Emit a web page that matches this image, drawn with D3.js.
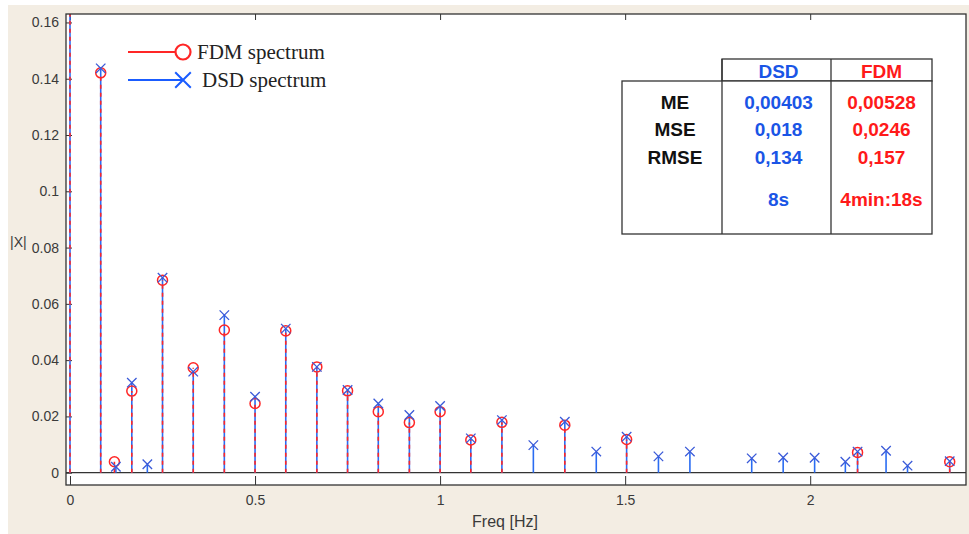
<!DOCTYPE html>
<html>
<head>
<meta charset="utf-8">
<script src="https://cdn.jsdelivr.net/npm/d3@7/dist/d3.min.js"></script>
<style>
  html, body { margin: 0; padding: 0; background: #fff; }
  svg { display: block; }
</style>
</head>
<body>
<div id="chart"></div>
<script>
// ---- data ----
// DSD spectrum (blue crosses)
const dsdFreq = [0, 0.083, 0.124, 0.167, 0.209, 0.25, 0.333, 0.417, 0.5, 0.583, 0.667, 0.75,
  0.833, 0.917, 1.0, 1.083, 1.167, 1.252, 1.337, 1.422, 1.504, 1.59, 1.675, 1.842, 1.927,
  2.012, 2.095, 2.128, 2.205, 2.263, 2.377];
const dsdMag = [0.17, 0.1437, 0.0021, 0.032, 0.003, 0.0693, 0.0359, 0.056, 0.027, 0.0512, 0.0376, 0.0294,
  0.0246, 0.0205, 0.0237, 0.0122, 0.0187, 0.0098, 0.0181, 0.0075, 0.0128, 0.0058, 0.0075, 0.0051, 0.0054,
  0.0053, 0.0039, 0.0075, 0.0078, 0.0025, 0.0041];

// FDM spectrum (red circles)
const fdmFreq = [0, 0.083, 0.12, 0.167, 0.25, 0.333, 0.417, 0.5, 0.583, 0.667, 0.75, 0.833,
  0.917, 1.0, 1.083, 1.167, 1.337, 1.504, 2.128, 2.377];
const fdmMag = [0.17, 0.1421, 0.0039, 0.029, 0.0684, 0.0373, 0.0507, 0.0246, 0.0504, 0.0376, 0.0291, 0.0217,
  0.0178, 0.0217, 0.0116, 0.0179, 0.0169, 0.0118, 0.0072, 0.0039];

const xTicks = [0, 0.5, 1, 1.5, 2];
const yTicks = [0, 0.02, 0.04, 0.06, 0.08, 0.1, 0.12, 0.14, 0.16];

const legendLabels = ["FDM spectrum", "DSD spectrum"];

// error table
const tableHeader = ["DSD", "FDM"];
const rowLabels = ["ME", "MSE", "RMSE", ""];
const dsdStats = ["0,00403", "0,018", "0,134", "8s"];
const fdmStats = ["0,00528", "0,0246", "0,157", "4min:18s"];

// ---- layout ----
const W = 969, H = 534;
const plot = { left: 66, top: 14, right: 966, bottom: 485 };
const RED = "#ff2626", BLUE = "#2a6cf2", XBLUE = "#3a5ad8", AXIS = "#333";

const svg = d3.select("#chart").append("svg")
    .attr("width", W)
    .attr("height", H);

// beige frame behind the axes
svg.append("rect")
    .attr("x", 8).attr("y", 5)
    .attr("width", W - 8).attr("height", H - 5)
    .attr("fill", "#f3ede3");

svg.append("rect")
    .attr("x", plot.left).attr("y", plot.top)
    .attr("width", plot.right - plot.left).attr("height", plot.bottom - plot.top)
    .attr("fill", "#fff");

const x = d3.scaleLinear().domain([-0.0108, 2.421]).range([plot.left, plot.right]);
const y = d3.scaleLinear().domain([-0.00437, 0.163]).range([plot.bottom, plot.top]);

svg.append("clipPath").attr("id", "clip")
  .append("rect")
    .attr("x", plot.left).attr("y", plot.top)
    .attr("width", plot.right - plot.left).attr("height", plot.bottom - plot.top);

const tickFmt = d => d === 0 ? "0" : String(+d.toFixed(2));

// axes
svg.append("g")
    .attr("transform", `translate(0,${plot.bottom})`)
    .call(d3.axisBottom(x).tickValues(xTicks).tickFormat(tickFmt).tickSizeInner(-9).tickSizeOuter(0).tickPadding(10));
svg.append("g")
    .attr("transform", `translate(0,${plot.top})`)
    .call(d3.axisTop(x).tickValues(xTicks).tickFormat("").tickSizeInner(-6).tickSizeOuter(0));
svg.append("g")
    .attr("transform", `translate(${plot.left},0)`)
    .call(d3.axisLeft(y).tickValues(yTicks).tickFormat(tickFmt).tickSizeInner(-6).tickSizeOuter(0).tickPadding(7));

svg.selectAll(".domain").remove();
svg.selectAll(".tick line").attr("stroke", AXIS);
svg.selectAll(".tick text")
    .attr("fill", "#3a3a3a")
    .style("font-family", "'Liberation Sans', Arial, sans-serif")
    .style("font-size", "14px");

// zero line
svg.append("line")
    .attr("x1", plot.left).attr("x2", plot.right)
    .attr("y1", y(0)).attr("y2", y(0))
    .attr("stroke", AXIS).attr("stroke-width", 1.3);

// stems
const marks = svg.append("g").attr("clip-path", "url(#clip)");
const dsd = dsdFreq.map((f, i) => ({ f, v: dsdMag[i] }));
const fdm = fdmFreq.map((f, i) => ({ f, v: fdmMag[i] }));

marks.selectAll(".dsd-stem")
    .data(dsd)
    .enter().append("line")
    .attr("class", "dsd-stem")
    .attr("x1", d => x(d.f)).attr("x2", d => x(d.f))
    .attr("y1", y(0)).attr("y2", d => y(d.v))
    .attr("stroke", BLUE).attr("stroke-width", 1.6);

marks.selectAll(".fdm-stem")
    .data(fdm)
    .enter().append("line")
    .attr("class", "fdm-stem")
    .attr("x1", d => x(d.f)).attr("x2", d => x(d.f))
    .attr("y1", y(0)).attr("y2", d => y(d.v))
    .attr("stroke", RED).attr("stroke-width", 1.6)
    .attr("stroke-dasharray", "4,4");

// markers
marks.selectAll(".fdm-dot")
    .data(fdm)
    .enter().append("circle")
    .attr("class", "fdm-dot")
    .attr("cx", d => x(d.f)).attr("cy", d => y(d.v))
    .attr("r", 5)
    .attr("fill", "none").attr("stroke", RED).attr("stroke-width", 1.5);

const cross = d3.symbol().type(d3.symbolTimes).size(60);
marks.selectAll(".dsd-x")
    .data(dsd)
    .enter().append("path")
    .attr("class", "dsd-x")
    .attr("transform", d => `translate(${x(d.f)},${y(d.v)})`)
    .attr("d", cross)
    .attr("fill", "none").attr("stroke", XBLUE).attr("stroke-width", 1.3);

// plot box
svg.append("rect")
    .attr("x", plot.left).attr("y", plot.top)
    .attr("width", plot.right - plot.left).attr("height", plot.bottom - plot.top)
    .attr("fill", "none").attr("stroke", AXIS).attr("stroke-width", 1.3);

// axis labels
svg.append("text")
    .attr("x", 505).attr("y", 527)
    .attr("text-anchor", "middle")
    .attr("fill", "#3a3a3a")
    .style("font-family", "'Liberation Sans', Arial, sans-serif")
    .style("font-size", "16px")
    .text("Freq [Hz]");

svg.append("text")
    .attr("x", 10).attr("y", 247)
    .attr("fill", "#3a3a3a")
    .style("font-family", "'Liberation Sans', Arial, sans-serif")
    .style("font-size", "14px")
    .text("|X|");

// legend
const legend = svg.append("g").attr("transform", "translate(128,52)");
const legendRows = legend.selectAll("g")
    .data(legendLabels)
    .enter().append("g")
    .attr("transform", (d, i) => `translate(0,${i * 28})`);

legendRows.append("line")
    .attr("x1", 0).attr("x2", 55)
    .attr("stroke", (d, i) => i === 0 ? RED : "#1a5cff")
    .attr("stroke-width", 2);
legendRows.filter((d, i) => i === 0).append("circle")
    .attr("cx", 55).attr("r", 7.5)
    .attr("fill", "#fff").attr("stroke", RED).attr("stroke-width", 2.2);
legendRows.filter((d, i) => i === 1).append("path")
    .attr("transform", "translate(55,0)")
    .attr("d", d3.symbol().type(d3.symbolTimes).size(160))
    .attr("fill", "none").attr("stroke", "#1a5cff").attr("stroke-width", 2);
legendRows.append("text")
    .attr("x", (d, i) => i === 0 ? 69 : 74).attr("y", 7)
    .attr("fill", "#222")
    .style("font-family", "'Liberation Serif', 'Times New Roman', serif")
    .style("font-size", "21px")
    .text(d => d);

// statistics table
const tbl = { left: 622, c1: 722, c2: 831, right: 932, top: 59, head: 81, bottom: 234 };
const tg = svg.append("g").attr("stroke", "#333").attr("stroke-width", 1.3).attr("fill", "none");
tg.append("rect").attr("x", tbl.c1).attr("y", tbl.top).attr("width", tbl.right - tbl.c1).attr("height", tbl.head - tbl.top).attr("fill", "#fff");
tg.append("rect").attr("x", tbl.left).attr("y", tbl.head).attr("width", tbl.right - tbl.left).attr("height", tbl.bottom - tbl.head).attr("fill", "#fff");
[tbl.c1, tbl.c2].forEach(cx => tg.append("line").attr("x1", cx).attr("x2", cx).attr("y1", tbl.top).attr("y2", tbl.bottom));

const colX = [(tbl.left + tbl.c1) / 2 + 3, (tbl.c1 + tbl.c2) / 2 + 2, (tbl.c2 + tbl.right) / 2];
const rowY = [109, 136, 164, 206];
const tableFont = "'Liberation Sans', Arial, sans-serif";

svg.selectAll(".th")
    .data(tableHeader)
    .enter().append("text")
    .attr("class", "th")
    .attr("x", (d, i) => colX[i + 1]).attr("y", 78)
    .attr("text-anchor", "middle")
    .attr("fill", (d, i) => i === 0 ? "#1a55e6" : "#ff1a1a")
    .style("font-family", tableFont).style("font-size", "19px").style("font-weight", "bold")
    .text(d => d);

const columns = [
  { vals: rowLabels, color: "#111" },
  { vals: dsdStats, color: "#1a55e6" },
  { vals: fdmStats, color: "#ff1a1a" }
];
columns.forEach((col, ci) => {
  svg.selectAll(`.col${ci}`)
      .data(col.vals)
      .enter().append("text")
      .attr("class", `col${ci}`)
      .attr("x", colX[ci]).attr("y", (d, i) => rowY[i])
      .attr("text-anchor", "middle")
      .attr("fill", col.color)
      .style("font-family", tableFont).style("font-size", "19px").style("font-weight", "bold")
      .text(d => d);
});
</script>
</body>
</html>
